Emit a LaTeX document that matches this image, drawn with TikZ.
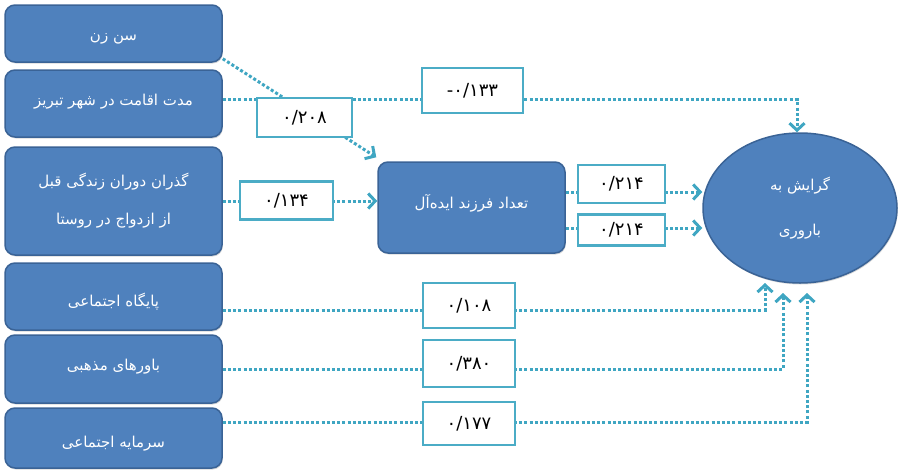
\documentclass[tikz,border=0pt]{standalone}
\usepackage{fontspec}
\usetikzlibrary{arrows.meta,shapes.geometric,calc,shadows}
\newfontfamily\fa[Script=Arabic]{DejaVu Sans}
\TeXXeTstate=1
\definecolor{boxblue}{HTML}{4F81BD}
\definecolor{boxedge}{HTML}{3A6396}
\definecolor{lineteal}{HTML}{4BACC6}
\definecolor{dotteal}{HTML}{3FA6C2}
\newcommand{\mvtxt}[2]{\raisebox{#1}[\height][\depth]{#2}}
\tikzset{
  bigbox/.style={draw=boxedge, line width=1.5pt, fill=boxblue, rounded corners=10pt,
    text=white, font=\fa\fontsize{15}{38}\selectfont, align=center, inner sep=0pt,
    minimum width=217pt,
    drop shadow={opacity=0.3, shadow xshift=0.8pt, shadow yshift=-1.5pt}},
  labbox/.style={draw=lineteal, line width=2.5pt, fill=white, text=black,
    font=\fa\fontsize{18}{20}\selectfont, inner sep=0pt},
  dl/.style={draw=dotteal, line width=3pt, dash pattern=on 3pt off 2.2pt},
  arr/.style={-{Straight Barb[length=7pt,width=15pt]}}
}
\begin{document}
\begin{tikzpicture}[x=1pt,y=-1pt]
\useasboundingbox (0,0) rectangle (902,469);
% main boxes
\node[bigbox, minimum height=57pt] (b1) at (113.5,33.5) {\mvtxt{-5pt}{\beginR سن زن\endR}};
\node[bigbox, minimum height=67pt] (b2) at (113.5,103.5) {\mvtxt{2pt}{\beginR مدت اقامت در شهر تبریز\endR}};
\node[bigbox, minimum height=108pt] (b3) at (113.5,201) {\beginR گذران دوران زندگی قبل\endR\\\beginR از ازدواج در روستا\endR};
\node[bigbox, minimum height=67pt] (b4) at (113.5,296.5) {\mvtxt{-5pt}{\beginR پایگاه اجتماعی\endR}};
\node[bigbox, minimum height=68pt] (b5) at (113.5,369) {\mvtxt{2pt}{\beginR باورهای مذهبی\endR}};
\node[bigbox, minimum height=60pt] (b6) at (113.5,438) {\mvtxt{-6pt}{\beginR سرمایه اجتماعی\endR}};
\node[bigbox, minimum width=187pt, minimum height=91pt] (mid) at (471.5,207.5) {\mvtxt{4pt}{\beginR تعداد فرزند ایده‌آل\endR}};
\node[ellipse, draw=boxedge, fill=boxblue, line width=1.5pt, minimum width=194pt,
  minimum height=150pt, inner sep=0pt, text=white, align=center,
  font=\fa\fontsize{15}{38}\selectfont,
  drop shadow={opacity=0.3, shadow xshift=0.8pt, shadow yshift=-1.5pt}] (ell) at (800,208)
  {\beginR گرایش به\endR\\[7pt]\beginR باروری\endR};
% connector end points
\coordinate (s1) at ($(b1.south east)+(0,-4)$);
\coordinate (t1) at ($(mid.north west)+(-1,-4)$);
\coordinate (s2) at ($(b2.east)+(0,-4)$);
\coordinate (t2) at ($(ell.north)+(-3,0)$);
\coordinate (s4) at ($(b4.east)+(0,13.5)$);
\coordinate (s6) at ($(b6.east)+(0,-16)$);
\coordinate (s7) at ($(mid.east)+(0,-15.5)$);
\coordinate (s8) at ($(mid.east)+(0,20.5)$);
\coordinate (e4) at (765,283);
\coordinate (e5) at (783,293);
\coordinate (e6) at (807,293);
% connectors
\draw[dl,arr] (s1) -- (t1);
\draw[dl,arr] (s2) -| (t2);
\draw[dl,arr] (b3.east) -- (b3.east -| mid.west);
\draw[dl,arr] (s7) -- (s7 -| ell.west);
\draw[dl,arr] (s8) -- (s8 -| ell.west);
\draw[dl,arr] (s4) -| (e4);
\draw[dl,arr] (b5.east) -| (e5);
\draw[dl,arr] (s6) -| (e6);
% coefficient labels
\node[labbox, minimum width=95pt, minimum height=39pt] (l1) at (304.5,117.5) {۰/۲۰۸};
\node[labbox, minimum width=101pt, minimum height=45pt] (l2) at (472.5,90.5) {\mbox{-}\mbox{۰/۱۳۳}};
\node[labbox, minimum width=93pt, minimum height=38pt] (l3) at (286.5,200.5) {۰/۱۳۴};
\node[labbox, minimum width=87pt, minimum height=38pt] (l4) at (621.5,184) {۰/۲۱۴};
\node[labbox, minimum width=87pt, minimum height=31pt] (l5) at (621.5,230) {۰/۲۱۴};
\node[labbox, minimum width=92pt, minimum height=45pt] (l6) at (469,305.5) {۰/۱۰۸};
\node[labbox, minimum width=92pt, minimum height=47pt] (l7) at (469,363.5) {۰/۳۸۰};
\node[labbox, minimum width=92pt, minimum height=43pt] (l8) at (469,423.5) {۰/۱۷۷};
\end{tikzpicture}
\end{document}
